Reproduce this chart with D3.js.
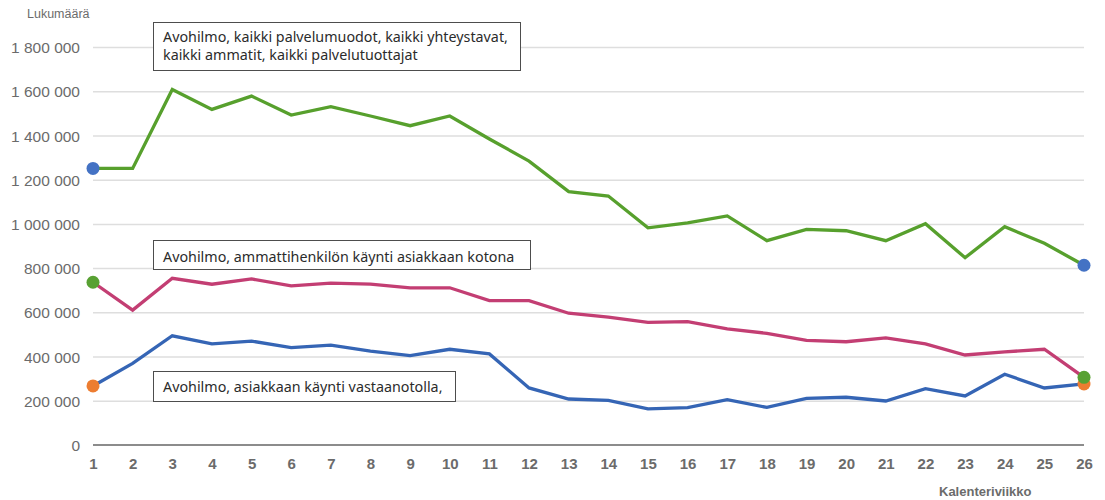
<!DOCTYPE html>
<html>
<head>
<meta charset="utf-8">
<script src="https://cdn.jsdelivr.net/npm/d3@7"></script>
<style>
  html, body { margin: 0; padding: 0; background: #fff; }
  svg { display: block; }
</style>
</head>
<body>
<svg id="chart" width="1105" height="500"></svg>
<script>
// ---- data ----
const weeks = [1,2,3,4,5,6,7,8,9,10,11,12,13,14,15,16,17,18,19,20,21,22,23,24,25,26];
const allVisits = [1251000,1251000,1608000,1518000,1578000,1492000,1530000,1488000,1444000,1488000,1384000,1284000,1146000,1126000,982000,1005000,1036000,924000,975000,969000,924000,1001000,847000,987000,912000,813000];
const homeVisits = [736000,610000,754000,727000,751000,720000,732000,728000,711000,711000,653000,653000,596000,578000,555000,558000,525000,505000,473000,467000,484000,457000,407000,421000,433000,306000];
const receptionVisits = [267000,369000,494000,457000,470000,440000,452000,425000,404000,433000,412000,258000,208000,202000,163000,169000,205000,170000,211000,216000,199000,255000,222000,320000,258000,276000];
const yTicks = [0,200000,400000,600000,800000,1000000,1200000,1400000,1600000,1800000];
const seriesNames = [
  ["Avohilmo, kaikki palvelumuodot, kaikki yhteystavat,", "kaikki ammatit, kaikki palvelutuottajat"],
  ["Avohilmo, ammattihenkilön käynti asiakkaan kotona"],
  ["Avohilmo, asiakkaan käynti vastaanotolla,"]
];
const yTitle = "Lukumäärä";
const xTitle = "Kalenteriviikko";

// ---- layout ----
const svg = d3.select("#chart");
const x = d3.scaleLinear().domain([1, 26]).range([93, 1084]);
const y = d3.scaleLinear().domain([0, 1800000]).range([445, 47]);
const fmt = v => d3.format(",")(v).replace(/,/g, "\u00a0");

// gridlines
const grid = svg.append("g").attr("transform", "translate(93,0)")
  .call(d3.axisLeft(y).tickValues(yTicks.filter(d => d > 0)).tickSize(-(1084 - 93)).tickFormat(""));
grid.select(".domain").remove();
grid.selectAll("line").attr("stroke", "#dedede").attr("stroke-width", 1.5);

// baseline
svg.append("line").attr("x1", 93).attr("x2", 1084).attr("y1", y(0)).attr("y2", y(0))
  .attr("stroke", "#8c8c8c").attr("stroke-width", 2);

// y axis labels
const yAxis = svg.append("g").attr("transform", "translate(80,0)")
  .call(d3.axisLeft(y).tickValues(yTicks).tickSize(0).tickPadding(0).tickFormat(fmt));
yAxis.select(".domain").remove();
yAxis.selectAll("text").attr("font-family", "Liberation Sans, Arial, sans-serif")
  .attr("font-size", 15.5).attr("fill", "#6b6b6b").attr("dy", "0.36em");

// x axis labels
const xAxis = svg.append("g").attr("transform", "translate(0,458)")
  .call(d3.axisBottom(x).tickValues(weeks).tickSize(0).tickPadding(0).tickFormat(d3.format("d")));
xAxis.select(".domain").remove();
xAxis.selectAll("text").attr("font-family", "Liberation Sans, Arial, sans-serif")
  .attr("font-size", 15).attr("font-weight", "bold").attr("fill", "#6b6b6b");

// titles
svg.append("text").attr("x", 27).attr("y", 17.5).text(yTitle)
  .attr("font-family", "Liberation Sans, Arial, sans-serif").attr("font-size", 12.5).attr("fill", "#6b6b6b");
svg.append("text").attr("x", 939).attr("y", 496).text(xTitle)
  .attr("font-family", "Liberation Sans, Arial, sans-serif").attr("font-size", 13).attr("font-weight", "bold").attr("fill", "#6b6b6b");

// lines
const line = d3.line().x((d, i) => x(weeks[i])).y(d => y(d));
const series = [
  { values: receptionVisits, color: "#3565b5", dot: "#ed7d31" },
  { values: homeVisits, color: "#c33e73", dot: "#58a133" },
  { values: allVisits, color: "#57a02d", dot: "#4472c4" }
];
series.forEach(s => {
  svg.append("path").datum(s.values).attr("d", line)
    .attr("fill", "none").attr("stroke", s.color).attr("stroke-width", 3.3)
    .attr("stroke-linejoin", "miter");
});
series.forEach(s => {
  const ends = [0, s.values.length - 1];
  svg.selectAll(null).data(ends).enter().append("circle")
    .attr("cx", i => x(weeks[i])).attr("cy", i => y(s.values[i]))
    .attr("r", 6.5).attr("fill", s.dot);
});

// annotation boxes
const boxes = [
  { lines: seriesNames[0], x: 153, y: 22, w: 367, h: 48, base: 42 },
  { lines: seriesNames[1], x: 153, y: 240, w: 377, h: 29, base: 262 },
  { lines: seriesNames[2], x: 153, y: 371, w: 302, h: 30, base: 392 }
];
boxes.forEach(b => {
  svg.append("rect").attr("x", b.x + 0.5).attr("y", b.y + 0.5).attr("width", b.w).attr("height", b.h)
    .attr("fill", "#fff").attr("stroke", "#4d4d4d").attr("stroke-width", 1);
  b.lines.forEach((t, i) => {
    svg.append("text").attr("x", b.x + 10).attr("y", b.base + i * 17.5).text(t)
      .attr("font-family", "Noto Sans, Open Sans, sans-serif").attr("font-size", 14.3).attr("fill", "#2b2b2b");
  });
});
</script>
</body>
</html>
